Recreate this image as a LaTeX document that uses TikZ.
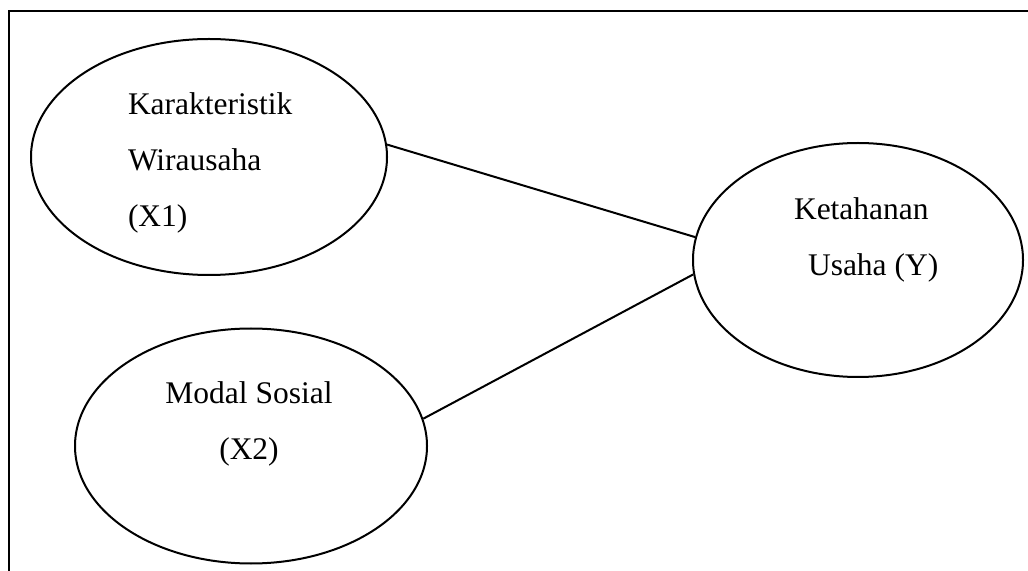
\documentclass[tikz,border=0pt]{standalone}
\usepackage{fontspec}
\setmainfont{Liberation Serif}
\usetikzlibrary{shapes.geometric}

\begin{document}
\begin{tikzpicture}[x=0.5pt,y=-0.5pt,line width=1pt]
	\tikzstyle{var}=[ellipse,draw=black,inner sep=0pt]
	\tikzstyle{txt}=[inner sep=0pt,text=black,font=\fontsize{15.75}{28}\selectfont]

	\useasboundingbox (0,0) rectangle (1028,571);
	\draw[line width=1.2pt] (9,571) -- (9,11) -- (1028,11);

	\node[var,minimum width=178pt,minimum height=118pt] (x1) at (209,157) {};
	\node[var,minimum width=176pt,minimum height=117.5pt] (x2) at (251,446) {};
	\node[var,minimum width=165pt,minimum height=117pt] (y) at (858,260) {};

	\node[txt,align=left,anchor=north west] (t1) at (127,91.5) {Karakteristik\\Wirausaha\\(X1)};
	\node[txt,align=center,anchor=north] (t2) at (249,380.5) {Modal Sosial\\(X2)};
	\node[txt,align=left,anchor=north west] (t3) at (793,196.5) {Ketahanan\\\hspace{7pt}Usaha (Y)};

	\path[draw]
	(x1.4) -- (y.172)
	(y.185) -- (x2.9)
	;
\end{tikzpicture}
\end{document}
